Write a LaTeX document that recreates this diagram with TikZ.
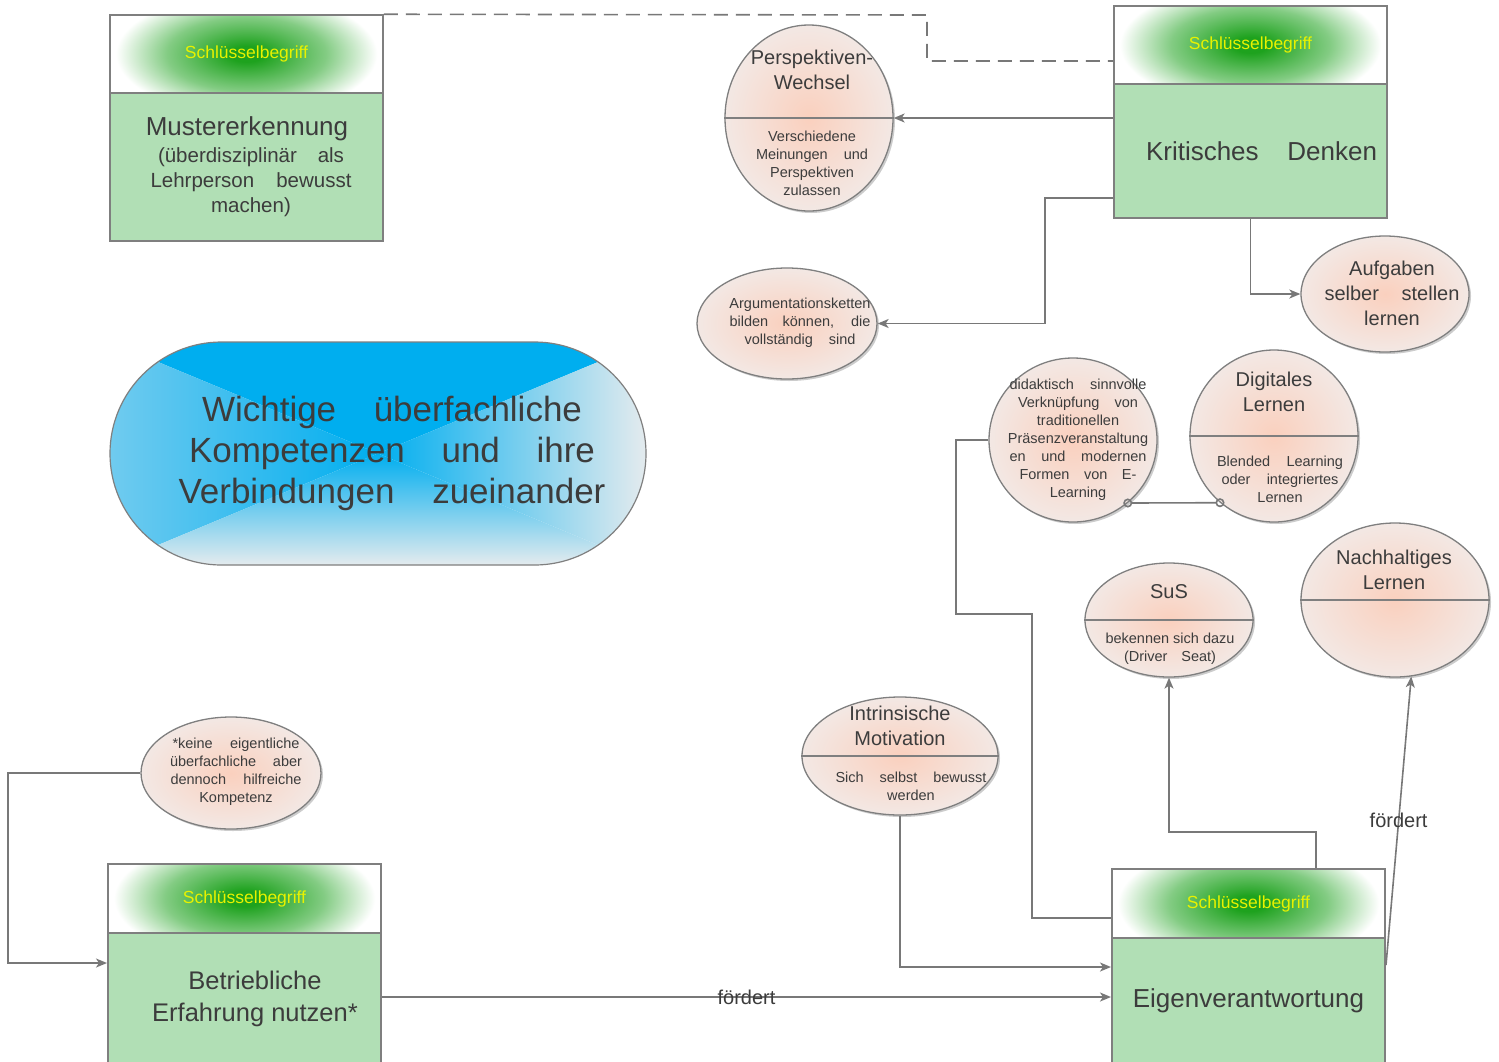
\documentclass[tikz,border=0pt]{standalone}
\usepackage{fontspec}
\setmainfont{Liberation Sans}
\usetikzlibrary{arrows.meta,shapes.geometric,shapes.misc,shadows}

\definecolor{kastengruen}{HTML}{B1DFB5}
\definecolor{randgrau}{HTML}{7F7F7F}
\definecolor{liniengrau}{HTML}{787878}
\definecolor{kopfgruen}{HTML}{1EA21E}
\definecolor{schrift}{HTML}{3C3C3C}
\definecolor{gelb}{HTML}{E8F200}
\definecolor{lachs}{HTML}{FAD0BE}
\definecolor{lachshell}{HTML}{F3E8E4}
\definecolor{blau}{HTML}{00AEEF}
\definecolor{blauhell}{HTML}{70CBEF}
\definecolor{grauhell}{HTML}{E4EBEE}

\pgfdeclareradialshading{kopf}{\pgfpoint{0bp}{0bp}}{color(0bp)=(kopfgruen); color(3bp)=(kopfgruen); color(14bp)=(kopfgruen!55!white); color(23bp)=(white); color(50bp)=(white)}

\newcommand{\spreizen}[2]{\makebox[#1pt][s]{#2}}

\begin{document}
\begin{tikzpicture}[x=1pt, y=-1pt,
kopfbox/.style={rectangle, draw=randgrau, line width=1.5pt, minimum width=273pt, inner sep=0pt, text=gelb, font=\fontsize{17.5}{20}\selectfont,
  path picture={\shade[shading=kopf] (path picture bounding box.center) ellipse [x radius=142pt, y radius=66pt];}},
kasten/.style={rectangle, draw=randgrau, line width=2pt, fill=kastengruen, minimum width=273pt, inner sep=0pt},
blase/.style={ellipse, draw=randgrau, line width=1.3pt, inner color=lachs, outer color=lachshell, inner sep=0pt, drop shadow={shadow xshift=2pt, shadow yshift=-2pt, opacity=0.2, fill=black}},
teiler/.style={draw=randgrau, line width=1.3pt},
gross/.style={text=schrift, font=\fontsize{26}{30}\selectfont, align=center, inner sep=0pt},
mittel/.style={text=schrift, font=\fontsize{20}{25}\selectfont, align=center, inner sep=0pt},
klein/.style={text=schrift, font=\fontsize{14.5}{18}\selectfont, align=center, inner sep=0pt},
titel/.style={rounded rectangle, draw=randgrau, line width=1.2pt, minimum width=536pt, minimum height=223pt, inner sep=0pt,
  path picture={
    \path (path picture bounding box.north west) coordinate (o1) (path picture bounding box.north east) coordinate (o2)
          (path picture bounding box.south west) coordinate (u1) (path picture bounding box.south east) coordinate (u2)
          (path picture bounding box.center) coordinate (m);
    \fill[blau] (o1) -- (m) -- (o2) -- cycle;
    \shade[left color=blauhell, right color=blau] (o1) -- (m) -- (u1) -- cycle;
    \shade[left color=blau, right color=grauhell] (o2) -- (m) -- (u2) -- cycle;
    \shade[top color=blau, bottom color=grauhell] (u1) -- (m) -- (u2) -- cycle;
  }},
linie/.style={draw=liniengrau, line width=1.6pt},
pfeil/.style={linie, -{Stealth[length=11pt,width=9pt,inset=3pt]}},
gestrichelt/.style={linie, dash pattern=on 14pt off 8pt}
]
    \clip (0,0) rectangle (1499,1061);
    \fill[white] (0,0) rectangle (1499,1061);

    % Schluesselbegriffe
    \node [kopfbox, minimum height=78pt] (mkopf) at (246.5,54) {Schlüsselbegriff};
    \node [kasten, minimum height=148pt] (mbody) at (246.5,167) {};
    \node [gross] (mbody-t1) at (247,129) {Mustererkennung};
    \node [mittel, font=\fontsize{20.5}{25}\selectfont] (mbody-t2) at (251,182) {\spreizen{186}{(überdisziplinär als}\\ \spreizen{201}{Lehrperson bewusst}\\ machen)};

    \node [kopfbox, minimum height=78pt] (kkopf) at (1250.5,45) {Schlüsselbegriff};
    \node [kasten, minimum height=134pt] (kbody) at (1250.5,151) {};
    \node [gross] (kbody-t) at (1261.5,151) {\spreizen{231}{Kritisches Denken}};

    \node [kopfbox, minimum height=69pt] (bkopf) at (244.5,898.5) {Schlüsselbegriff};
    \node [kasten, minimum height=142pt] (bbody) at (244.5,1004) {};
    \node [gross, font=\fontsize{25.5}{32}\selectfont] (bbody-t) at (255,999) {Betriebliche\\ Erfahrung nutzen*};

    \node [kopfbox, minimum height=69pt] (ekopf) at (1248.5,903.5) {Schlüsselbegriff};
    \node [kasten, minimum height=137pt] (ebody) at (1248.5,1006.5) {};
    \node [gross] (ebody-t) at (1248.5,1001) {Eigenverantwortung};

    % Titel
    \node [titel] (titel) at (378,453.5) {};
    \node [gross, font=\fontsize{35}{41}\selectfont] (titel-t) at (392,453) {\spreizen{380}{Wichtige überfachliche}\\ \spreizen{406}{Kompetenzen und ihre}\\ \spreizen{427}{Verbindungen zueinander}};

    % Blasen
    \node [blase, minimum width=168pt, minimum height=186pt] (pw) at (809,118) {};
    \draw [teiler] (pw.west) -- (pw.east);
    \node [mittel] (pw-t) at (812,70) {Perspektiven-\\ Wechsel};
    \node [klein] (pw-b) at (812,163) {Verschiedene\\ \spreizen{112}{Meinungen und}\\ Perspektiven\\ zulassen};

    \node [blase, minimum width=180pt, minimum height=111pt] (ag) at (787,323.5) {};
    \node [klein] (ag-t) at (800,323) {Argumentationsketten\\ \spreizen{141}{bilden können, die}\\ \spreizen{111}{vollständig sind}};

    \node [blase, minimum width=168pt, minimum height=116pt] (auf) at (1385,294) {};
    \node [mittel] (auf-t) at (1392,293) {Aufgaben\\ \spreizen{135}{selber stellen}\\ lernen};

    \node [blase, minimum width=168pt, minimum height=164pt] (dk) at (1073,440) {};
    \node [klein] (dk-t) at (1078,440) {\spreizen{137}{didaktisch sinnvolle}\\ \spreizen{120}{Verknüpfung von}\\ traditionellen\\ Präsenzveranstaltung\\ \spreizen{137}{en und modernen}\\ \spreizen{117}{Formen von E-}\\ Learning};

    \node [blase, minimum width=168pt, minimum height=172pt] (dl) at (1274,436) {};
    \draw [teiler] (dl.west) -- (dl.east);
    \node [mittel] (dl-t) at (1274,392) {Digitales\\ Lernen};
    \node [klein] (dl-b) at (1280,479) {\spreizen{126}{Blended Learning}\\ \spreizen{117}{oder integriertes}\\ Lernen};

    \node [blase, minimum width=168pt, minimum height=114pt] (sus) at (1169,620) {};
    \draw [teiler] (sus.west) -- (sus.east);
    \node [mittel] (sus-t) at (1169,592) {SuS};
    \node [klein] (sus-b) at (1170,649) {bekennen sich dazu\\ \spreizen{92}{(Driver Seat)}};

    \node [blase, minimum width=188pt, minimum height=154pt] (nl) at (1395,600) {};
    \draw [teiler] (nl.west) -- (nl.east);
    \node [mittel] (nl-t) at (1394,570) {Nachhaltiges\\ Lernen};

    \node [blase, minimum width=196pt, minimum height=118pt] (im) at (900,756) {};
    \draw [teiler] (im.west) -- (im.east);
    \node [mittel] (im-t) at (900,726) {Intrinsische\\ Motivation};
    \node [klein] (im-b) at (911,786) {\spreizen{151}{Sich selbst bewusst}\\ werden};

    \node [blase, minimum width=180pt, minimum height=112pt] (kk) at (231,773) {};
    \node [klein] (kk-t) at (236,772) {\spreizen{127}{*keine eigentliche}\\ \spreizen{132}{überfachliche aber}\\ \spreizen{131}{dennoch hilfreiche}\\ Kompetenz};

    % Verbindungen
    \draw [gestrichelt] (mkopf.north east) -- (927,15) -- (927,61) -- (kkopf.west |- 927,61);
    \draw [pfeil] (kbody.west |- pw.east) -- (pw.east);
    \draw [pfeil] (kbody.west |- 0,198) -- (1045,198) |- (ag.east);
    \draw [pfeil] (kbody.south) |- (auf.west);
    \draw [linie] (dk.west) -| (956,614) -| (1032,918) -- (ekopf.west |- 1032,918);
    \draw [linie, {Circle[open,length=9pt,width=9pt]}-{Circle[open,length=9pt,width=9pt]}, shorten <=-4.5pt, shorten >=-4.5pt] (dk.-49) -- (dl.231);
    \draw [pfeil] (ekopf.north -| 1316,0) -- (1316,832) -| (sus.south);
    \draw [pfeil] (ebody.east |- 0,965) -- node [mittel] (f2) {fördert} (nl.-78);
    \draw [pfeil] (im.south) |- (ebody.west |- 0,967);
    \draw [pfeil] (bbody.east |- 0,997) -- node [mittel] (f1) {fördert} (ebody.west |- 0,997);
    \draw [pfeil] (kk.west) -- (8,773) |- (bbody.west |- 0,963);
\end{tikzpicture}
\end{document}
